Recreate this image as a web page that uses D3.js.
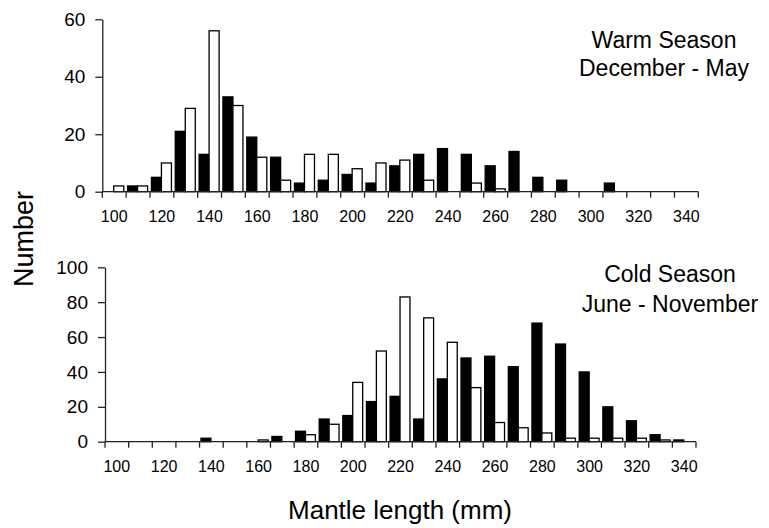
<!DOCTYPE html>
<html>
<head>
<meta charset="utf-8">
<script src="https://cdn.jsdelivr.net/npm/d3@7"></script>
<style>
  html, body { margin: 0; padding: 0; background: #fff; }
  svg { display: block; font-family: "Liberation Sans", Arial, sans-serif; }
</style>
</head>
<body>
<svg id="chart" width="769" height="528"></svg>
<script>
// ---- data ----
const categories = [100,110,120,130,140,150,160,170,180,190,200,210,220,230,240,250,260,270,280,290,300,310,320,330,340];
const xTickLabels = [100,120,140,160,180,200,220,240,260,280,300,320,340];

const warmFilled = [0,2,5,21,13,33,19,12,3,4,6,3,9,13,15,13,9,14,5,4,0,3,0,0,0];
const warmOpen   = [2,2,10,29,56,30,12,4,13,13,8,10,11,4,0,3,1,0,0,0,0,0,0,0,0];
const warmYTicks = [0,20,40,60];

const coldFilled = [0,0,0,0,2,0,0,3,6,13,15,23,26,13,36,48,49,43,68,56,40,20,12,4,1];
const coldOpen   = [0,0,0,0,0,0,1,0,4,10,34,52,83,71,57,31,11,8,5,2,2,2,2,1,0];
const coldYTicks = [0,20,40,60,80,100];

const warmTitle = ["Warm Season", "December - May"];
const coldTitle = ["Cold Season", "June - November"];

const svg = d3.select("#chart");

function panel(opts) {
  const g = svg.append("g");
  const x = d3.scaleBand().domain(categories).range([opts.x0, opts.x1]).padding(0);
  const bw = x.bandwidth();
  const sub = d3.scaleBand().domain(["filled","open"]).range([bw*0.06, bw*0.90]).padding(0);
  const y = d3.scaleLinear().domain([0, opts.ymax]).range([opts.yBase, opts.yTop]);

  const rows = categories.map((c,i) => ({c, filled: opts.filled[i], open: opts.open[i]}));

  // bars
  const grp = g.selectAll("g.cat").data(rows).join("g")
    .attr("transform", d => `translate(${x(d.c)},0)`);
  grp.selectAll("rect").data(d => [{k:"filled", v:d.filled},{k:"open", v:d.open}].filter(e => e.v > 0))
    .join("rect")
    .attr("x", e => sub(e.k))
    .attr("width", sub.bandwidth())
    .attr("y", e => y(e.v))
    .attr("height", e => y(0) - y(e.v))
    .attr("fill", e => e.k === "filled" ? "#000" : "#fff")
    .attr("stroke", "#000")
    .attr("stroke-width", 1.3);

  // y axis
  const ya = g.append("g").attr("transform", `translate(${opts.x0},0)`)
    .call(d3.axisLeft(y).tickValues(opts.yTicks).tickSize(7).tickPadding(10).tickSizeOuter(0));
  ya.select(".domain").attr("stroke", "#222").attr("stroke-width", 1.3);
  ya.selectAll(".tick line").attr("stroke", "#222").attr("stroke-width", 1.3);
  ya.selectAll(".tick text").attr("font-size", 19).attr("fill", "#000")
    .attr("font-family", "Liberation Sans, Arial, sans-serif");

  // x axis: ticks at band boundaries
  const boundaries = categories.map(c => x(c)).concat([opts.x1]);
  g.append("line").attr("x1", opts.x0).attr("x2", opts.x1)
    .attr("y1", opts.yBase).attr("y2", opts.yBase)
    .attr("stroke", "#222").attr("stroke-width", 1.3);
  g.selectAll("line.xt").data(boundaries).join("line").attr("class","xt")
    .attr("x1", d => d).attr("x2", d => d)
    .attr("y1", opts.yBase).attr("y2", opts.yBase + 6)
    .attr("stroke", "#222").attr("stroke-width", 1.3);
  g.selectAll("text.xl").data(xTickLabels).join("text").attr("class","xl")
    .attr("x", d => x(d) + bw/2)
    .attr("y", opts.yBase + 30)
    .attr("text-anchor", "middle")
    .attr("font-size", 16)
    .text(d => d);

  // season title
  g.selectAll("text.tt").data(opts.title).join("text").attr("class","tt")
    .attr("x", opts.titleX)
    .attr("y", (d,i) => opts.titleY + i*opts.titleDy)
    .attr("text-anchor", "middle")
    .attr("font-size", 23)
    .text(d => d);
}

panel({x0:102.3, x1:698.3, yBase:191.7, yTop:19.3, ymax:60, yTicks:warmYTicks,
       filled:warmFilled, open:warmOpen, title:warmTitle, titleX:664, titleY:48, titleDy:28});
panel({x0:105, x1:696, yBase:441.7, yTop:267.3, ymax:100, yTicks:coldYTicks,
       filled:coldFilled, open:coldOpen, title:coldTitle, titleX:670, titleY:282, titleDy:30});

svg.append("text")
  .attr("transform", "translate(33,239) rotate(-90)")
  .attr("text-anchor", "middle")
  .attr("font-size", 27)
  .text("Number");

svg.append("text")
  .attr("x", 400).attr("y", 519)
  .attr("text-anchor", "middle")
  .attr("font-size", 26)
  .text("Mantle length (mm)");
</script>
</body>
</html>
